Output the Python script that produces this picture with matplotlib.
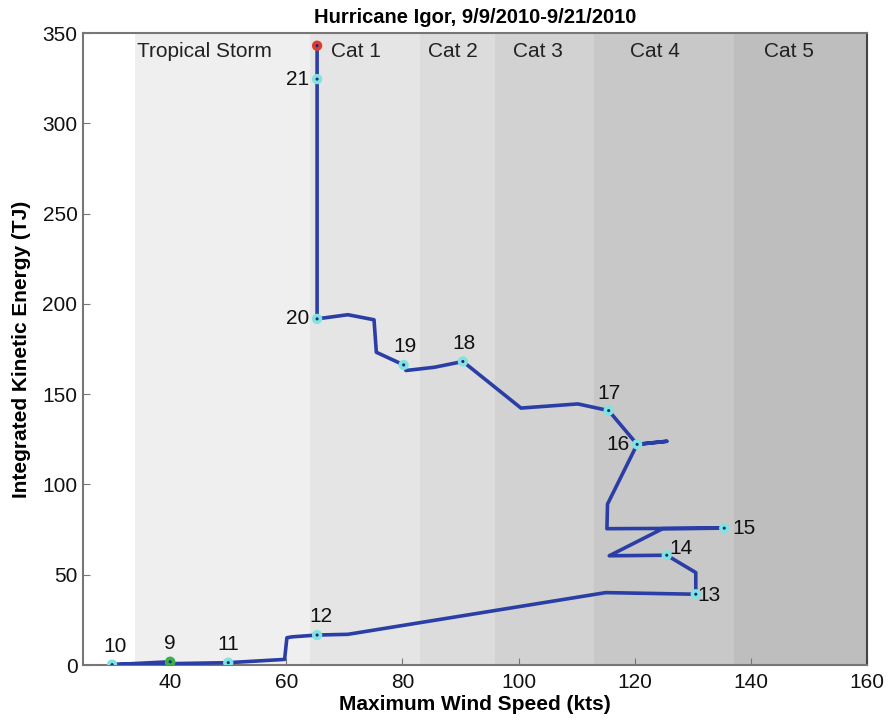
import matplotlib
matplotlib.use("Agg")
import matplotlib.pyplot as plt

plt.rcParams["font.family"] = ["Liberation Sans", "DejaVu Sans"]

# Category bands (kts)
band_edges = [25, 34, 64, 83, 96, 113, 137, 160]
band_colors = ["#ffffff", "#efefef", "#e5e5e5", "#dcdcdc", "#d2d2d2", "#c8c8c8", "#bebebe"]
band_labels = ["Tropical Storm", "Cat 1", "Cat 2", "Cat 3", "Cat 4", "Cat 5"]
band_label_x = [45.9, 72.0, 88.7, 103.3, 123.5, 146.5]

# Track (time order) : wind speed (kts), IKE (TJ)
track_wind = [40, 30, 50, 59.7, 60.1, 61, 65.3, 70.6, 115, 130.5, 130.5, 125.5, 115.6, 124.8,
              135.4, 115.2, 115.3, 120.4, 125.5, 120.4, 115.5, 110.2, 100.4, 90.4, 85.5,
              80.6, 80.2, 75.5, 75.1, 70.6, 65.3, 65.3, 65.3]
track_ike = [1.8, 0.2, 1.3, 3.1, 15.1, 15.6, 16.6, 17.0, 40.1, 39.2, 51.2, 60.8, 60.5, 75.5,
             75.8, 75.5, 89.1, 122.2, 123.9, 122.2, 140.9, 144.6, 142.3, 168.1, 164.9,
             163.1, 166.2, 173.2, 191.2, 194.0, 191.7, 324.5, 343.0]

# Daily labeled points
day_labels = ["9", "10", "11", "12", "13", "14", "15", "16", "17", "18", "19", "20", "21"]
day_wind = [40, 30, 50, 65.3, 130.5, 125.5, 135.4, 120.4, 115.5, 90.4, 80.2, 65.3, 65.3]
day_ike = [1.8, 0.2, 1.3, 16.6, 39.2, 60.8, 75.8, 122.2, 140.9, 168.1, 166.2, 191.7, 324.5]
label_dx = [0, 0.5, 0, 0.6, 0.3, 0.4, 1.4, -1.3, 0, 0.2, 0.2, -1.4, -1.3]
label_dy = [10, 10, 10, 10, -0.5, 3.5, 0, 0, 9.5, 10, 10, 0, 0]
label_ha = ["center", "center", "center", "center", "left", "left", "left", "right",
            "center", "center", "center", "right", "right"]

fig = plt.figure(figsize=(8.91, 7.26), dpi=100)
ax = fig.add_axes([0.0932, 0.084, 0.880, 0.8705])

for i in range(len(band_colors)):
    ax.axvspan(band_edges[i], band_edges[i + 1], color=band_colors[i], lw=0, zorder=0)
for lab, x in zip(band_labels, band_label_x):
    ax.text(x, 339.5, lab, ha="center", va="center", fontsize=15, color="#222222", zorder=3)

ax.plot(track_wind, track_ike, color="#2b3ea6", lw=2.6, solid_joinstyle="round", zorder=4)

# day markers
ax.scatter(day_wind, day_ike, s=55, color="#7fe3e0", edgecolors="none", zorder=5)
ax.scatter(day_wind, day_ike, s=5, color="#1a2a80", edgecolors="none", zorder=6)
ax.scatter([day_wind[0]], [day_ike[0]], s=55, color="#3cb043", edgecolors="none", zorder=6)
ax.scatter([day_wind[0]], [day_ike[0]], s=5, color="#1a2a80", edgecolors="none", zorder=7)
ax.scatter([track_wind[-1]], [track_ike[-1]], s=55, color="#e03a2a", edgecolors="none", zorder=6)
ax.scatter([track_wind[-1]], [track_ike[-1]], s=5, color="#1a2a80", edgecolors="none", zorder=7)

for lab, x, y, dx, dy, ha in zip(day_labels, day_wind, day_ike, label_dx, label_dy, label_ha):
    ax.text(x + dx, y + dy, lab, ha=ha, va="center", fontsize=15, color="#111111", zorder=8)

ax.set_xlim(25, 160)
ax.set_ylim(0, 350)
ax.set_xticks([40, 60, 80, 100, 120, 140, 160])
ax.set_yticks([0, 50, 100, 150, 200, 250, 300, 350])
ax.tick_params(direction="in", length=5, color="#777777", labelsize=15, labelcolor="#111111")
ax.tick_params(axis="x", pad=6)
ax.tick_params(axis="y", pad=4)
for s in ax.spines.values():
    s.set_color("#777777")
    s.set_linewidth(1.5)
ax.spines["right"].set_color("#444444")

ax.set_title("Hurricane Igor, 9/9/2010-9/21/2010", fontsize=14.5, fontweight="bold", pad=7)
ax.set_xlabel("Maximum Wind Speed (kts)", fontsize=15, fontweight="bold", labelpad=2)
ax.set_ylabel("Integrated Kinetic Energy (TJ)", fontsize=15, fontweight="bold", labelpad=8)

fig.savefig("out.png", dpi=100)
